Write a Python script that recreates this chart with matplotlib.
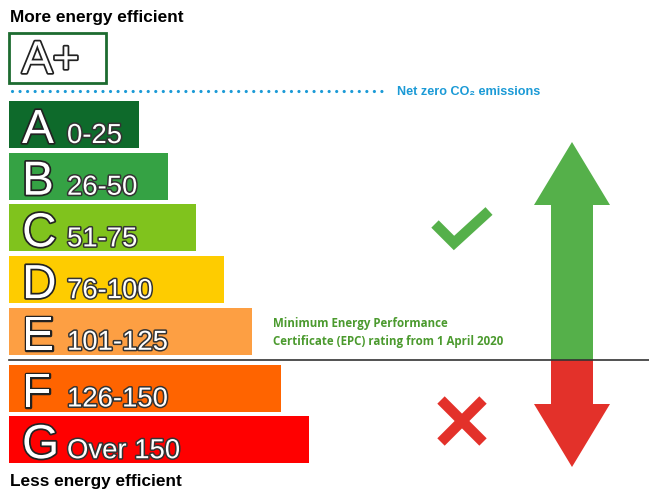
import numpy as np
import matplotlib.pyplot as plt
import matplotlib.patheffects as pe
from matplotlib.patches import Polygon, Rectangle

# EPC bands
bands = ['A', 'B', 'C', 'D', 'E', 'F', 'G']
ranges = ['0-25', '26-50', '51-75', '76-100', '101-125', '126-150', 'Over 150']
bar_lengths = [130, 159, 187, 215, 243, 272, 300]
colors = ['#0e6a2b', '#35a244', '#80c31d', '#fecc00', '#fd9f43', '#ff6400', '#ff0000']

top_label = 'More energy efficient'
bottom_label = 'Less energy efficient'
netzero_label = 'Net zero CO\u2082 emissions'
min_label = 'Minimum Energy Performance\nCertificate (EPC) rating from 1 April 2020'

W, H = 649, 493
fig = plt.figure(figsize=(W / 100, H / 100), dpi=100)
ax = fig.add_axes([0, 0, 1, 1])
ax.set_xlim(0, W)
ax.set_ylim(H, 0)
ax.axis('off')

x0 = 9
bar_h = 47
pitch = 51.7
tops = np.array([101 + i * pitch + (5 if i >= 5 else 0) for i in range(len(bands))])

outline = [pe.withStroke(linewidth=2.5, foreground='#222222')]
thin_outline = [pe.withStroke(linewidth=2.2, foreground='#333333')]

ax.barh(tops + bar_h / 2, bar_lengths, left=x0, height=bar_h, color=colors)
for i, (b, r) in enumerate(zip(bands, ranges)):
    base = tops[i] + bar_h - 5
    ax.text(22, base, b, fontsize=34.5, family='Liberation Sans', color='white',
            va='baseline', ha='left', path_effects=outline)
    ax.text(67, base, r, fontsize=19.8, family='Liberation Sans', color='white',
            va='baseline', ha='left', path_effects=thin_outline)

# A+ box
ax.add_patch(Rectangle((x0, 33), 97, 50, fill=False, edgecolor='#1d6b30', linewidth=2))
ax.text(22, 73, 'A+', fontsize=33, family='Liberation Sans', color='white',
        va='baseline', ha='left', path_effects=outline)

# headings
ax.text(10, 22, top_label, fontsize=12.4, fontweight='bold', family='Liberation Sans',
        va='baseline', ha='left', color='black')
ax.text(10, 486, bottom_label, fontsize=12.4, fontweight='bold', family='Liberation Sans',
        va='baseline', ha='left', color='black')

# net zero dotted line
ax.plot([12, 384], [91, 91], color='#1b9ad6', lw=2.3, linestyle=(0, (0.01, 2.35)),
        dash_capstyle='round')
ax.text(397, 92, netzero_label, fontsize=9.1, fontweight='bold',
        family=['Liberation Sans', 'DejaVu Sans'], color='#1b9ad6', va='center', ha='left')

# minimum EPC line and note
ax.plot([x0, W], [360, 360], color='#333333', lw=1.2)
ax.text(273, 333, min_label, fontsize=8.3, fontweight='bold', family='Open Sans',
        color='#4b9a2e', va='center', ha='left', linespacing=1.5)

# arrows
green = '#55b04a'
red = '#e3312a'
ax.add_patch(Polygon([(572, 142), (610, 205), (593, 205), (593, 360), (551, 360),
                      (551, 205), (534, 205)], closed=True, color=green, lw=0))
ax.add_patch(Polygon([(551, 360), (593, 360), (593, 404), (610, 404), (572, 467),
                      (534, 404), (551, 404)], closed=True, color=red, lw=0))

# tick and cross
ax.plot([435, 454, 489], [224, 243, 211], color=green, lw=7.5, solid_capstyle='butt',
        solid_joinstyle='miter')
ax.plot([441, 483], [400, 442], color=red, lw=7.5, solid_capstyle='butt')
ax.plot([441, 483], [442, 400], color=red, lw=7.5, solid_capstyle='butt')

fig.savefig('out.png', dpi=100)
